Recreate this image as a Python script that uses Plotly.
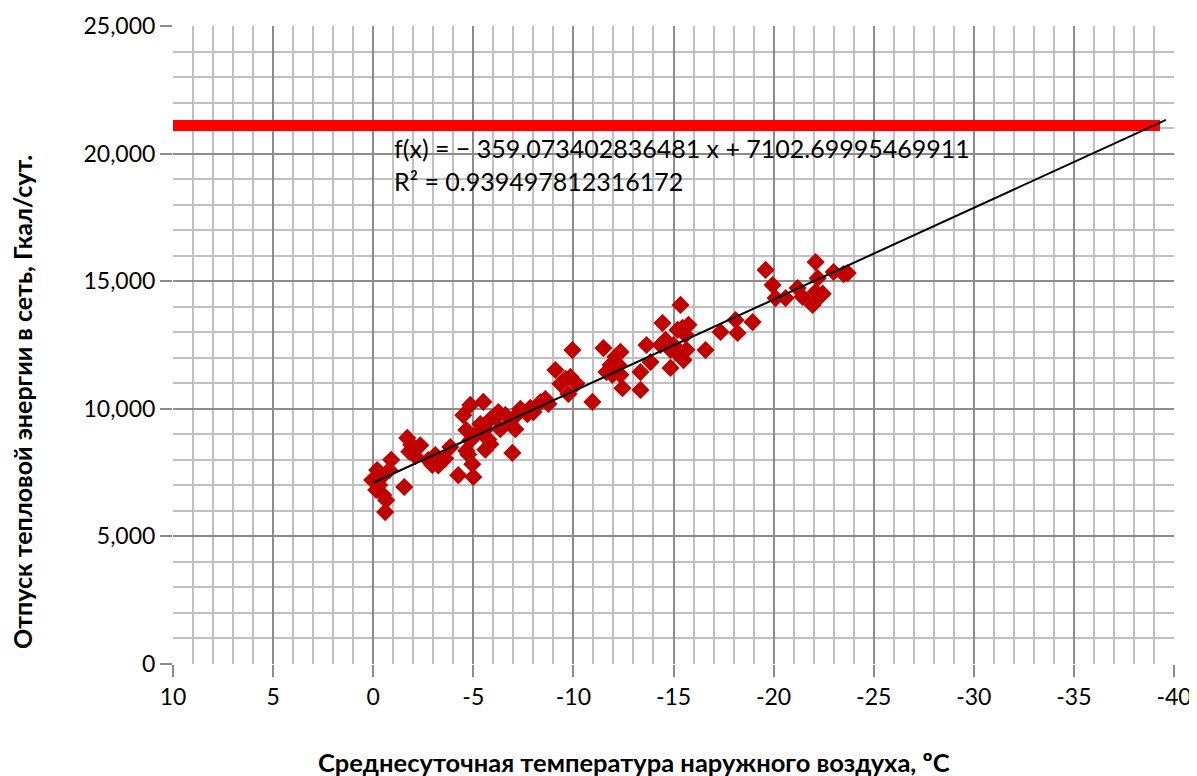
import plotly.graph_objects as go

# Scatter data: mean daily outdoor temperature (°C) vs heat supply (Gcal/day)
temp = [0.05, -0.15, -0.3, -0.5, -0.65, -0.4, -0.2, -0.6, -0.8, -0.9,
        -1.55, -1.7, -1.9, -1.8, -2.0, -2.1, -2.35,
        -2.75, -2.95, -3.1, -3.25, -3.35, -3.6, -3.85,
        -4.25, -4.5, -4.85, -4.65, -4.85, -5.1, -4.75, -4.95, -5.0, -4.65,
        -5.5, -5.35, -5.6, -5.85, -5.75, -5.6, -5.85,
        -6.1, -6.25, -6.35, -6.6, -6.95, -7.1, -6.85, -7.35, -7.1,
        -7.7, -7.85, -8.0, -8.35, -8.6, -8.75,
        -9.1, -9.35, -9.6, -9.85, -9.75, -9.95, -10.15,
        -10.95, -11.5, -11.65, -11.85, -11.95, -12.35, -12.1, -12.25, -12.35,
        -12.45, -13.35, -13.35, -13.65, -13.85,
        -14.45, -14.35, -14.6, -14.85, -15.0, -14.85, -15.25, -15.35,
        -15.2, -15.45, -15.6, -15.75, -15.5, -15.65,
        -16.6, -17.35, -18.1, -18.2, -18.95,
        -19.6, -19.95, -20.1, -20.6, -21.2, -21.45, -22.1, -21.95,
        -22.1, -22.35, -22.45, -22.2, -23.0, -23.5, -23.7]
heat = [7210, 6820, 7010, 6620, 6420, 7310, 7600, 5955, 7600, 8000,
        6935, 8860, 8590, 8320, 8470, 8140, 8570,
        7990, 7800, 8190, 7780, 7900, 8050, 8500,
        7400, 9750, 10150, 9170, 8760, 8960, 8210, 7830, 7330, 8360,
        10270, 9400, 9200, 9590, 8800, 8400, 8610,
        9660, 9870, 9200, 9750, 8270, 9710, 9400, 10000, 9200,
        9790, 10040, 9870, 10260, 10380, 10190,
        11520, 10980, 11170, 11250, 10580, 12300, 10990,
        10270, 12380, 11440, 11720, 11330, 11330, 12040, 11720, 12230,
        10810, 10740, 11440, 12500, 11830,
        13360, 12500, 12700, 12310, 12500, 11600, 12120, 14070,
        13090, 13170, 12900, 13290, 11910, 12310,
        12300, 13010, 13480, 12970, 13400,
        15440, 14850, 14340, 14340, 14730, 14380, 15750, 14070,
        14580, 14420, 14510, 15120, 15360, 15280, 15320]

# Linear trend (from the chart label)
slope = -359.073402836481
intercept = 7102.69995469911
r2 = 0.939497812316172
trend_x = [0.0, -39.6]

# Capacity limit (red line)
limit_x = [10.0, -39.3]
limit_y = [21100, 21100]

x_ticks = [10, 5, 0, -5, -10, -15, -20, -25, -30, -35, -40]
x_labels = ["10", "5", "0", "-5", "-10", "-15", "-20", "-25", "-30", "-35", "-40"]
y_ticks = [0, 5000, 10000, 15000, 20000, 25000]

x_title = "Среднесуточная температура наружного воздуха, ºС"
y_title = "Отпуск тепловой энергии в сеть, Гкал/сут."

FONT = "Lato, 'DejaVu Sans', sans-serif"

fig = go.Figure()
fig.add_trace(go.Scatter(x=limit_x, y=limit_y, mode="lines",
                         line=dict(color="#ff0000", width=11), hoverinfo="skip"))
fig.add_trace(go.Scatter(x=temp, y=heat, mode="markers",
                         marker=dict(symbol="diamond", size=14, color="#c00000",
                                     line=dict(width=0))))
fig.add_trace(go.Scatter(x=trend_x, y=[slope * v + intercept for v in trend_x],
                         mode="lines", line=dict(color="#000000", width=2)))

fig.add_annotation(x=0.219, y=20900, xref="paper", yref="y", xanchor="left", yanchor="top",
                   text=f"f(x) = − {abs(slope)} x + {intercept}<br>R² = {r2}",
                   showarrow=False, align="left",
                   font=dict(family=FONT, size=25, color="#000000"))

fig.add_annotation(x=0.4605, y=-0.1536, xref="paper", yref="paper",
                   xanchor="center", yanchor="middle", showarrow=False,
                   text=f"<b>{x_title}</b>",
                   font=dict(family=FONT, size=25.5, color="#000000"))
fig.add_annotation(x=-0.1508, y=0.4107, xref="paper", yref="paper",
                   xanchor="center", yanchor="middle", showarrow=False, textangle=-90,
                   text=f"<b>{y_title}</b>",
                   font=dict(family=FONT, size=25, color="#000000"))

grid_major = "#8c8c8c"
grid_minor = "#c0c0c0"

fig.update_layout(
    width=1197, height=776,
    margin=dict(l=165, r=31, t=18, b=120, autoexpand=False),
    paper_bgcolor="white", plot_bgcolor="white",
    showlegend=False,
    font=dict(family=FONT, size=23, color="#000000"),
    xaxis=dict(range=[10, -40], tickvals=x_ticks, ticktext=x_labels,
               showgrid=True, gridcolor=grid_major, gridwidth=2,
               minor=dict(dtick=1, showgrid=True, gridcolor=grid_minor, gridwidth=2),
               zeroline=False, showline=False, automargin=False,
               ticks="outside", ticklen=12, tickwidth=2, tickcolor=grid_major,
               tickfont=dict(size=23)),
    yaxis=dict(range=[0, 25000], tickvals=y_ticks, tickformat=",d",
               showgrid=True, gridcolor=grid_major, gridwidth=2,
               minor=dict(dtick=1000, showgrid=True, gridcolor=grid_minor, gridwidth=2),
               zeroline=False, showline=False, automargin=False,
               ticks="outside", ticklen=12, tickwidth=2, tickcolor=grid_major,
               tickfont=dict(size=23)),
)

fig.write_html("out.html")
